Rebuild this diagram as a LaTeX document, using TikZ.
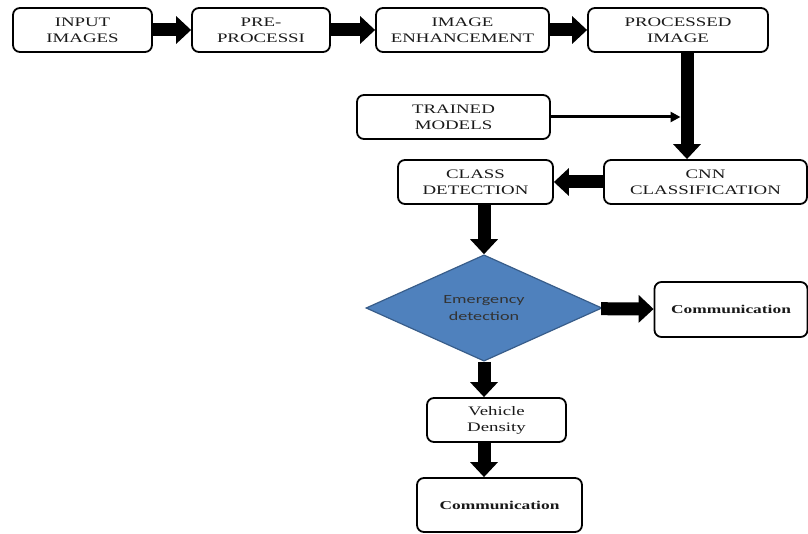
\documentclass[tikz,border=0pt]{standalone}
\usepackage{fontspec}
\setmainfont{Liberation Serif}[FakeStretch=1.45]
\newfontfamily\diafont{Carlito}[FakeStretch=1.45]
\usepackage{tikz}
\usetikzlibrary{shapes,arrows.meta,positioning}
\definecolor{diafill}{HTML}{4F81BD}
\definecolor{diadraw}{HTML}{385D8A}
\tikzstyle{paso} = [draw=black, line width=1.8pt, rectangle, rounded corners=7pt, inner sep=0pt, align=center, font=\fontsize{13}{16}\selectfont, text=black!90]
\tikzstyle{decision} = [draw=diadraw, fill=diafill, line width=1.2pt, diamond, inner sep=0pt, align=center, font=\diafont\fontsize{12.5}{17}\selectfont, text=black!80]
\tikzstyle{flecha} = [line width=13pt, -{Triangle[length=15pt,width=27pt]}]
\tikzstyle{flechita} = [line width=3pt, -{Triangle[length=10pt,width=10pt]}]

\begin{document}
\begin{tikzpicture}[x=1pt,y=-1pt]
					\useasboundingbox (0,0) rectangle (808,534);
					\node [paso, minimum width=139pt, minimum height=44pt] (input) at (82.5,30) {INPUT\\IMAGES};
					\node [paso, minimum width=138pt, minimum height=44pt] (pre) at (261,30) {PRE-\\PROCESSI};
					\node [paso, minimum width=173pt, minimum height=44pt] (enh) at (462.5,30) {IMAGE\\ENHANCEMENT};
					\node [paso, minimum width=180pt, minimum height=44pt] (proc) at (678,30) {PROCESSED\\IMAGE};
					\node [paso, minimum width=193pt, minimum height=44pt] (trained) at (453.5,117) {TRAINED\\MODELS};
					\node [paso, minimum width=203pt, minimum height=44pt] (cnn) at (705.5,182) {CNN\\CLASSIFICATION};
					\node [paso, minimum width=155pt, minimum height=44pt] (clase) at (475.5,182) {CLASS\\DETECTION};
					\node [decision, minimum width=236pt, minimum height=105pt] (emerg) at (484,308) {Emergency\\detection};
					\node [paso, minimum width=153pt, minimum height=55pt] (comA) at (731,309.5) {\fontsize{12}{14}\selectfont\bfseries Communication};
					\node [paso, minimum width=139pt, minimum height=44pt] (veh) at (496.5,420) {Vehicle\\Density};
					\node [paso, minimum width=165pt, minimum height=54pt] (comB) at (499.5,505) {\fontsize{12}{14}\selectfont\bfseries Communication};
					\coordinate (bajada) at (687,52);
					\draw [flecha] (input) -- (pre);
					\draw [flecha] (pre) -- (enh);
					\draw [flecha] (enh) -- (proc);
					\draw [flecha] (bajada) -- (bajada |- cnn.north);
					\draw [flechita, shorten >=6.5pt] (trained.east) -- (trained.east -| bajada);
					\draw [flecha] (cnn) -- (clase);
					\draw [flecha] (emerg.north |- clase.south) -- (emerg.north);
					\draw [flecha] (emerg) -- (comA);
					\draw [flecha] (emerg.south) -- (emerg.south |- veh.north);
					\draw [flecha] (emerg.south |- veh.south) -- (emerg.south |- comB.north);
					\end{tikzpicture}
\end{document}
